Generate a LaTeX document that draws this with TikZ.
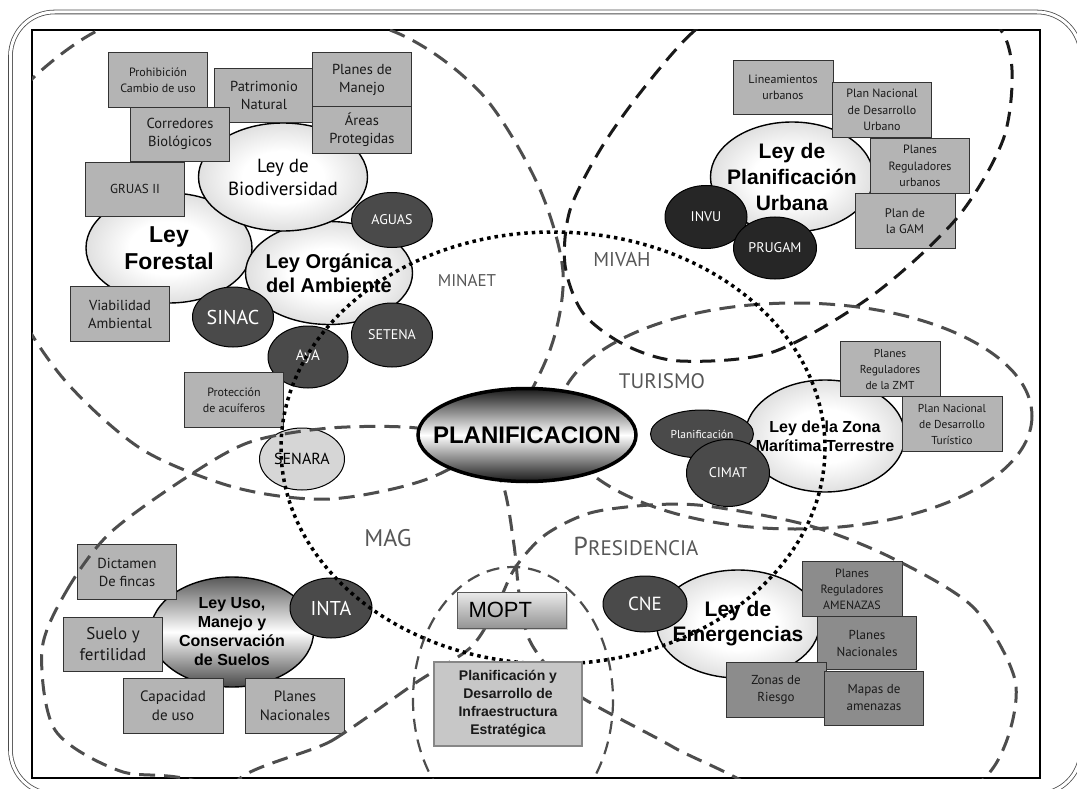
\documentclass[tikz,border=0pt]{standalone}
\usepackage{fontspec}
\setmainfont{PT Sans}
\newfontfamily\arialf{Liberation Sans}
\usetikzlibrary{shapes.geometric, shadows}

\definecolor{boxgray}{HTML}{B4B4B4}
\definecolor{boxdark}{HTML}{8C8C8C}
\definecolor{ovdark}{HTML}{4A4A4A}
\definecolor{ovblack}{HTML}{262626}
\definecolor{lblgray}{HTML}{575757}
\definecolor{dashgray}{HTML}{4D4D4D}
\definecolor{senaragray}{HTML}{D6D6D6}

\newcommand{\fsz}[2]{\fontsize{#1}{#2}\selectfont}

\pgfdeclareradialshading{lightball}{\pgfpoint{0bp}{0bp}}{color(0bp)=(white); color(12bp)=(white); color(50bp)=(black!36); color(100bp)=(black!36)}

\tikzset{
  lawov/.style={ellipse, draw=black, line width=1.4pt, shading=lightball, inner sep=-30pt, align=center, text=black},
  instov/.style={ellipse, draw=black, line width=1pt, fill=ovdark, text=white, inner sep=-4pt, align=center},
  instblk/.style={instov, fill=ovblack},
  toolbox/.style={rectangle, draw=black!80, line width=0.9pt, fill=boxgray, inner sep=0pt, align=center, text=black!90, minimum width=99pt, minimum height=55pt},
  hazbox/.style={toolbox, fill=boxdark},
  minlabel/.style={text=lblgray, inner sep=0pt},
  realm/.style={draw=dashgray, line width=3pt, dash pattern=on 16pt off 9pt},
}

\begin{document}
\begin{tikzpicture}[x=1pt, y=-1pt]
\useasboundingbox (0,0) rectangle (1077,789);
\clip (0,0) rectangle (1077,789);

% frame
\draw[black!70, line width=0.8pt, double=white, double distance=3pt, rounded corners=44pt] (10.5,12) rectangle (1081,794);
\draw[line width=2pt, fill=white] (32,30) rectangle (1040,778);

% MINAET laws
\node[lawov, font=\arialf\bfseries\fsz{23}{27}, minimum width=166pt, minimum height=110pt] (forestal) at (169,248) {Ley\\Forestal};
\node[lawov, font=\arialf\bfseries\fsz{20}{24}, minimum width=167pt, minimum height=103pt] (organica) at (329,273) {Ley Orgánica\\del Ambiente};
\node[lawov, font=\fsz{19}{23}, minimum width=169pt, minimum height=108pt] (biodiv) at (283,177) {Ley de\\Biodiversidad};

\node[toolbox, font=\fsz{12}{16}] (prohib) at (158,80) {Prohibición\\Cambio de uso};
\node[toolbox, font=\fsz{14.5}{18}, minimum height=54pt] (patrim) at (264,95) {Patrimonio\\Natural};
\node[toolbox, font=\fsz{14.5}{18}] (planman) at (362,80) {Planes de\\Manejo};
\node[toolbox, font=\fsz{14.5}{18}, minimum height=47pt] (areas) at (362,130) {Áreas\\Protegidas};
\node[toolbox, font=\fsz{14.5}{18}, minimum height=54pt] (corred) at (180,134) {Corredores\\Biológicos};
\node[toolbox, font=\fsz{13}{16}, minimum height=54pt] (gruas) at (135,189) {GRUAS II};
\node[toolbox, font=\fsz{14.5}{18}] (viab) at (120,314) {Viabilidad\\Ambiental};

\node[instov, font=\fsz{14}{16}, minimum width=81pt, minimum height=55pt] (aguas) at (392,220) {AGUAS};
\node[instov, font=\fsz{20}{22}, minimum width=81pt, minimum height=60pt] (sinac) at (233,317) {SINAC};
\node[instov, font=\fsz{14}{16}, minimum width=81pt, minimum height=64pt] (setena) at (392,335) {SETENA};
\node[instov, font=\fsz{15}{17}, minimum width=80pt, minimum height=62pt] (aya) at (308,357) {AyA};
\node[toolbox, font=\fsz{12}{16}] (protec) at (234,400) {Protección\\de acuíferos};
\node[ellipse, draw=black, line width=1pt, fill=senaragray, inner sep=-4pt, font=\fsz{16}{18}, minimum width=85pt, minimum height=62pt] (senara) at (302,459) {SENARA};

% MIVAH
\node[lawov, font=\arialf\bfseries\fsz{21}{26}, minimum width=163pt, minimum height=110pt] (urbana) at (792,177) {Ley de\\Planificación\\Urbana};
\node[toolbox, font=\fsz{12}{16}, minimum width=100pt, minimum height=54pt] (lineam) at (783,87) {Lineamientos\\urbanos};
\node[toolbox, font=\fsz{12}{16.5}] (pnurb) at (882,110) {Plan Nacional\\de Desarrollo\\Urbano};
\node[toolbox, font=\fsz{12}{16.5}] (pregurb) at (920,166) {Planes\\Reguladores\\urbanos};
\node[toolbox, font=\fsz{12.5}{16.5}, minimum width=100pt] (gam) at (905,221) {Plan de\\la GAM};
\node[instblk, font=\fsz{14}{16}, minimum width=82pt, minimum height=63pt] (invu) at (706,217) {INVU};
\node[instblk, font=\fsz{14}{16}, minimum width=83pt, minimum height=62pt] (prugam) at (775,248) {PRUGAM};

% TURISMO
\node[lawov, font=\arialf\bfseries\fsz{16}{19}, minimum width=160pt, minimum height=112pt] (zona) at (825,436) {Ley de la Zona\\Marítima Terrestre};
\node[instov, font=\fsz{11.5}{13}, minimum width=103pt, minimum height=48pt] (planzmt) at (702,434) {Planificación};
\node[instov, font=\fsz{14}{16}, minimum width=83pt, minimum height=67pt] (cimat) at (728,473) {CIMAT};
\node[toolbox, font=\fsz{11.5}{16}, minimum width=100pt] (pregzmt) at (890,369) {Planes\\Reguladores\\de la ZMT};
\node[toolbox, font=\fsz{11.5}{16}, minimum width=100pt] (pndt) at (952,424) {Plan Nacional\\de Desarrollo\\Turístico};

% PRESIDENCIA
\node[lawov, font=\arialf\bfseries\fsz{21}{25}, minimum width=163pt, minimum height=108pt] (emerg) at (738,624) {Ley de\\Emergencias};
\node[instov, font=\fsz{19}{21}, minimum width=84pt, minimum height=56pt] (cne) at (645,604) {CNE};
\node[hazbox, font=\fsz{12}{16}, minimum width=100pt] (amenaz) at (852,589) {Planes\\Reguladores\\AMENAZAS};
\node[hazbox, font=\fsz{13}{17}, minimum height=53pt] (pnacem) at (867,643) {Planes\\Nacionales};
\node[hazbox, font=\fsz{13}{17}, minimum width=100pt] (riesgo) at (776,690) {Zonas de\\Riesgo};
\node[hazbox, font=\fsz{13}{17}, minimum height=54pt] (mapas) at (874,698) {Mapas de\\amenazas};

% MAG
\node[ellipse, draw=black, line width=1.4pt, top color=black!65, bottom color=black!72, middle color=white, inner sep=-30pt, align=center, font=\arialf\bfseries\fsz{16}{19}, minimum width=163pt, minimum height=110pt] (leyuso) at (232,632) {Ley Uso,\\Manejo y\\Conservación\\de Suelos};
\node[instov, font=\fsz{20}{22}, minimum width=82pt, minimum height=60pt] (inta) at (331,608) {INTA};
\node[toolbox, font=\fsz{14.5}{18}] (dictamen) at (127,572) {Dictamen\\De fincas};
\node[toolbox, font=\fsz{17}{21}, minimum height=54pt] (suelo) at (113,644) {Suelo y\\fertilidad};
\node[toolbox, font=\fsz{15}{19}, minimum width=100pt] (capac) at (173,706) {Capacidad\\de uso};
\node[toolbox, font=\fsz{15}{19}] (pnacag) at (295,706) {Planes\\Nacionales};

% ministry names
\node[minlabel, font=\fsz{17}{17}] (minaet) at (467,281) {MINAET};
\node[minlabel, font=\fsz{20}{20}] (mivah) at (622,259) {MIVAH};
\node[minlabel, font=\fsz{21}{21}] (turismo) at (662,381) {TURISMO};
\node[minlabel, font=\fsz{24}{24}] (mag) at (388,538) {MAG};
\node[minlabel] (presid) at (636,546) {{\fsz{26}{26}P}{\fsz{21}{21}RESIDENCIA}};

% ministry areas
\begin{scope}
\clip (32,30) rectangle (1040,778);
\draw[realm] plot[smooth cycle] coordinates {(220,-8) (390,30) (480,92) (538,185) (563,272) (550,350) (505,430) (430,478) (330,499) (237,488) (143,450) (68,384) (18,310) (-18,210) (5,110) (93,33)};
\draw[realm, draw=black!90, dash pattern=on 15pt off 9pt] plot[smooth cycle] coordinates {(760,-15) (693,32) (640,93) (600,150) (570,210) (565,265) (583,313) (625,345) (680,361) (773,352) (873,295) (957,218) (1003,140) (1012,70) (997,25) (930,-25) (840,-35)};
\draw[realm] (795,416) ellipse [x radius=237, y radius=113];
\draw[realm] plot[smooth cycle] coordinates {(42,650) (67,590) (110,533) (187,477) (250,442) (330,428) (417,428) (478,445) (503,485) (514,545) (520,600) (532,645) (575,693) (673,747) (760,800) (650,860) (400,850) (200,782) (120,771) (55,730)};
\draw[realm] plot[smooth cycle] coordinates {(240,790) (333,740) (417,682) (470,648) (495,610) (515,568) (545,535) (590,513) (650,505) (707,506) (807,525) (890,557) (973,607) (1015,680) (1005,745) (970,790) (850,850) (500,860)};
\draw[realm, line width=2.2pt, dash pattern=on 13pt off 8pt] (513,700) ellipse [x radius=100, y radius=133];
\end{scope}

% planning ring
\draw[black, line width=3.5pt, dash pattern=on 3.5pt off 4pt] (553,448) ellipse [x radius=272, y radius=216];

\node[ellipse, draw=black, line width=3.5pt, top color=black!90, bottom color=black!90, middle color=white, inner sep=-40pt, font=\arialf\bfseries\fsz{24}{24}, minimum width=218pt, minimum height=93pt] (planif) at (527,435) {PLANIFICACION};
\node[rectangle, draw=black!65, line width=0.8pt, top color=black!8, bottom color=black!42, drop shadow={shadow xshift=1.5pt, shadow yshift=-1.5pt, opacity=0.35}, font=\arialf\fsz{22}{22}, text width=87pt, inner xsep=11pt, inner ysep=0pt, minimum height=36pt, align=left] (mopt) at (512,610) {MOPT};
\node[rectangle, draw=black!47, line width=2pt, fill=black!22, text=black!90, font=\arialf\bfseries\fsz{14}{18}, minimum width=148pt, minimum height=84pt, inner sep=0pt, align=center] (pyd) at (508,704) {Planificación y\\Desarrollo de\\Infraestructura\\Estratégica};
\end{tikzpicture}
\end{document}
